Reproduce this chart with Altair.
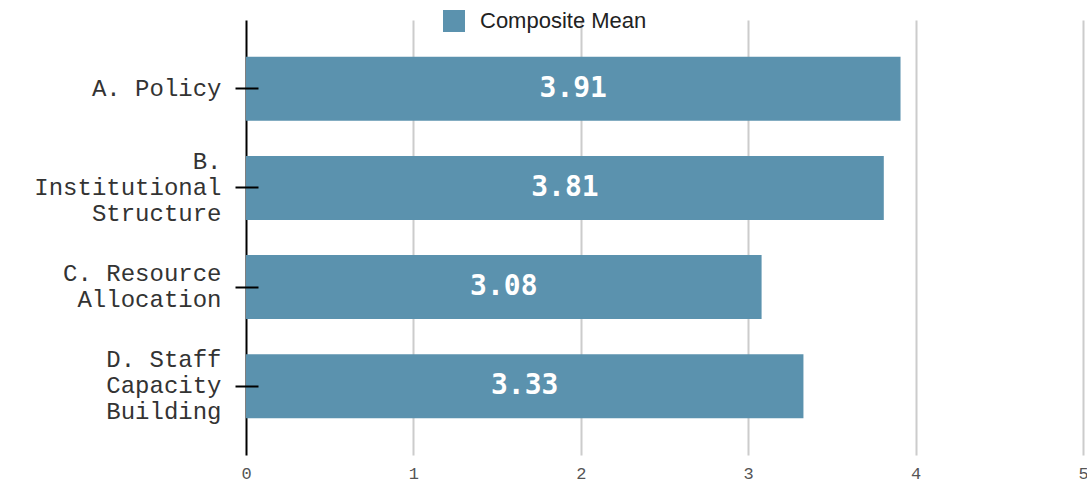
import json
import altair as alt
import pandas as pd

categories = ["A. Policy", "B. Institutional Structure", "C. Resource Allocation", "D. Staff Capacity Building"]
values = [3.91, 3.81, 3.08, 3.33]
label_lines = [["A. Policy"], ["B.", "Institutional", "Structure"], ["C. Resource", "Allocation"], ["D. Staff", "Capacity", "Building"]]
series_name = "Composite Mean"
x_ticks = [0, 1, 2, 3, 4, 5]
bar_color = "#5b92ae"
line_height = 26

df = pd.DataFrame({"category": categories, "value": values, "series": series_name})
df["label"] = [f"{v:.2f}" for v in values]

label_map = json.dumps(dict(zip(categories, label_lines)))

offset_conditions = []
for cat, lines in zip(categories, label_lines):
    if len(lines) > 1:
        offset_conditions.append({
            "test": f"datum.value === {json.dumps(cat)}",
            "value": -(len(lines) - 1) * line_height / 2,
        })

y_enc = alt.Y(
    "category:N",
    sort=categories,
    title=None,
    scale=alt.Scale(paddingInner=0.355, paddingOuter=0.37),
    axis=alt.Axis(
        labelExpr=f"{label_map}[datum.label]",
        labelOffset={"condition": offset_conditions, "value": 0},
        labelLimit=300,
        offset=-12,
        domain=False,
        ticks=True,
        tickSize=23,
        tickColor="#000",
        tickWidth=2,
        labelPadding=14,
        labelFont="Liberation Mono",
        labelFontSize=24,
        labelColor="#333",
        labelLineHeight=line_height,
        labelAlign="right",
        labelBaseline="middle",
        grid=False,
        zindex=1,
    ),
)

x_scale = alt.Scale(domain=[0, 5], nice=False)

bars = alt.Chart(df).mark_bar().encode(
    x=alt.X(
        "value:Q",
        scale=x_scale,
        title=None,
        axis=alt.Axis(
            values=x_ticks,
            format="d",
            labelFlush=False,
            labelAlign="center",
            ticks=False,
            domain=False,
            grid=True,
            gridColor={"condition": {"test": "datum.value === 0", "value": "#000"}, "value": "#cccccc"},
            gridWidth=2,
            labelFont="Liberation Mono",
            labelFontSize=17,
            labelColor="#555",
            labelPadding=10,
        ),
    ),
    y=y_enc,
    color=alt.Color(
        "series:N",
        scale=alt.Scale(range=[bar_color]),
        legend=alt.Legend(
            title=None,
            orient="none",
            legendX=197,
            legendY=-10,
            symbolType="square",
            symbolSize=484,
            symbolStrokeWidth=0,
            labelFont="Liberation Sans",
            labelFontSize=22,
            labelColor="#222",
            labelOffset=15,
            labelLimit=400,
            padding=0,
        ),
    ),
)

texts = alt.Chart(df).transform_calculate(mid="datum.value / 2").mark_text(
    font="DejaVu Sans Mono",
    fontSize=28,
    fontWeight=600,
    color="white",
    baseline="middle",
    align="center",
).encode(
    x=alt.X("mid:Q", scale=x_scale, title=None),
    y=alt.Y("category:N", sort=categories),
    text="label:N",
)

chart = alt.layer(bars, texts).properties(
    width=837,
    height=435,
    autosize=alt.AutoSizeParams(type="none"),
    padding={"left": 246, "top": 20, "right": 4, "bottom": 27},
).configure_view(stroke=None)

chart.save("out.html", embed_options={"renderer": "svg", "actions": False})
